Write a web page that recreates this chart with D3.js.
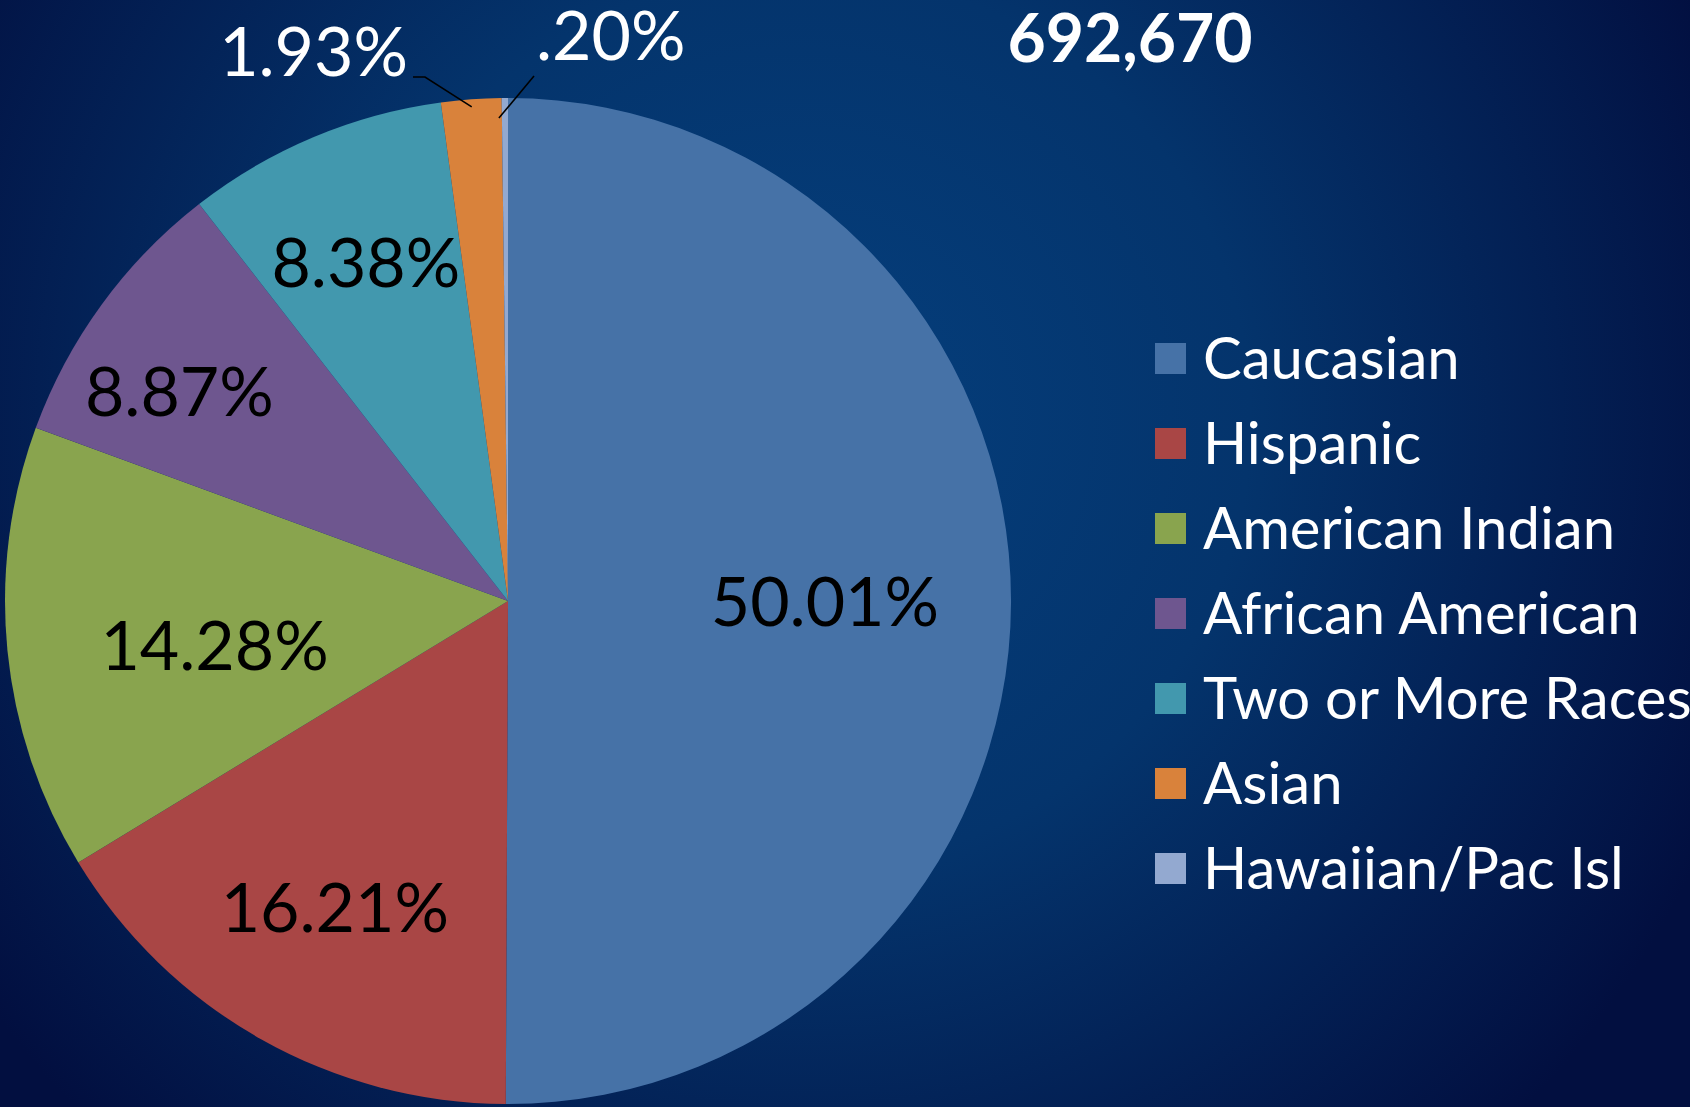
<!DOCTYPE html>
<html>
<head>
<meta charset="utf-8">
<script src="https://cdn.jsdelivr.net/npm/d3@7"></script>
<style>
  html, body { margin: 0; padding: 0; overflow: hidden; background: #021a4a; }
  svg { display: block; }
  text { font-family: Lato, "Open Sans", sans-serif; }
</style>
</head>
<body>
<svg id="chart"></svg>
<script>
// data
var categories = ["Caucasian", "Hispanic", "American Indian", "African American", "Two or More Races", "Asian", "Hawaiian/Pac Isl"];
var shares = [50.01, 16.21, 14.28, 8.87, 8.38, 1.93, 0.20];
var shareLabels = ["50.01%", "16.21%", "14.28%", "8.87%", "8.38%", "1.93%", ".20%"];
var totalLabel = "692,670";

var colors = ["#4672a7", "#a94645", "#89a44e", "#6e568f", "#4298ae", "#d9823b", "#93a9d0"];

var width = 1690, height = 1107;
var cx = 508, cy = 601, radius = 503;

// where each inside label sits: fraction of radius, and a small angle nudge (deg)
var labelRadii = [0.63, 0.70, 0.59, 0.775, 0.73];
var labelNudge = [0, 0, -3, -3.6, 0];

var svg = d3.select("#chart").attr("width", width).attr("height", height);

var defs = svg.append("defs");
var grad = defs.append("radialGradient")
    .attr("id", "bg")
    .attr("gradientUnits", "userSpaceOnUse")
    .attr("cx", 800).attr("cy", 420).attr("r", 1000);
grad.append("stop").attr("offset", "0").attr("stop-color", "#053f7d");
grad.append("stop").attr("offset", "0.45").attr("stop-color", "#04346c");
grad.append("stop").attr("offset", "1").attr("stop-color", "#020f40");

svg.append("rect").attr("width", width).attr("height", height).attr("fill", "url(#bg)");

var pie = d3.pie().sort(null).value(function(d) { return d; });
var arcs = pie(shares);

var arc = d3.arc().innerRadius(0).outerRadius(radius);

var g = svg.append("g").attr("transform", "translate(" + cx + "," + cy + ")");

g.selectAll("path.slice")
  .data(arcs)
  .enter().append("path")
    .attr("class", "slice")
    .attr("d", arc)
    .attr("fill", function(d, i) { return colors[i]; });

// labels inside the big slices
g.selectAll("text.inlabel")
  .data(arcs.slice(0, 5))
  .enter().append("text")
    .attr("class", "inlabel")
    .attr("transform", function(d, i) {
      var r = radius * labelRadii[i];
      var a = (d.startAngle + d.endAngle) / 2 + labelNudge[i] * Math.PI / 180;
      return "translate(" + (r * Math.sin(a)) + "," + (-r * Math.cos(a)) + ")";
    })
    .attr("text-anchor", "middle")
    .attr("dy", "0.36em")
    .attr("font-size", 68)
    .attr("fill", "#000")
    .text(function(d, i) { return shareLabels[i]; });

// leader lines for the two small slices
function edgePoint(d, f) {
  var a = (d.startAngle + d.endAngle) / 2;
  return [radius * f * Math.sin(a), -radius * f * Math.cos(a)];
}

var asian = arcs[5], hawaii = arcs[6];
var pA = edgePoint(asian, 0.985);
var pH = edgePoint(hawaii, 0.98);

var line = d3.line();
g.append("path")
    .attr("d", line([pA, [425 - cx, 77 - cy], [413 - cx, 77 - cy]]))
    .attr("fill", "none").attr("stroke", "#000").attr("stroke-width", 1.6);
g.append("path")
    .attr("d", line([[pH[0] - 6, pH[1] + 10], [534 - cx, 76 - cy]]))
    .attr("fill", "none").attr("stroke", "#000").attr("stroke-width", 1.6);

svg.append("text")
    .attr("x", 408).attr("y", 76)
    .attr("text-anchor", "end")
    .attr("font-size", 68)
    .attr("fill", "#fff")
    .text(shareLabels[5]);

svg.append("text")
    .attr("x", 536).attr("y", 60)
    .attr("text-anchor", "start")
    .attr("font-size", 68)
    .attr("fill", "#fff")
    .text(shareLabels[6]);

// total
svg.append("text")
    .attr("x", 1130).attr("y", 62)
    .attr("text-anchor", "middle")
    .attr("font-size", 66)
    .attr("font-weight", "bold")
    .attr("fill", "#fff")
    .text(totalLabel);

// legend
var legendY = d3.scalePoint().domain(categories).range([358, 358 + 85 * 6]);

var legend = svg.selectAll("g.legend")
  .data(categories)
  .enter().append("g")
    .attr("class", "legend")
    .attr("transform", function(d) { return "translate(1155," + legendY(d) + ")"; });

legend.append("rect")
    .attr("x", 0).attr("y", -15)
    .attr("width", 31).attr("height", 31)
    .attr("fill", function(d, i) { return colors[i]; });

legend.append("text")
    .attr("x", 48)
    .attr("dy", "0.36em")
    .attr("font-size", 58)
    .attr("fill", "#fff")
    .text(function(d) { return d; });
</script>
</body>
</html>
